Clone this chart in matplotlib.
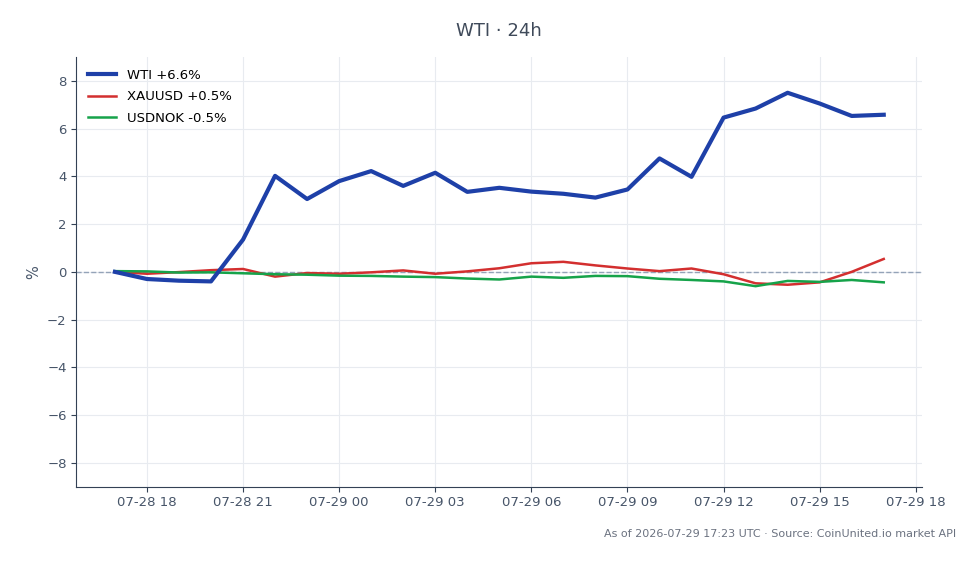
import matplotlib
matplotlib.use("Agg")
import matplotlib.pyplot as plt
import matplotlib.dates as mdates
import pandas as pd

# hourly % change, 07-28 17:00 -> 07-29 17:00 UTC
times = pd.date_range("2026-07-28 17:00", "2026-07-29 17:00", freq="h")

wti = [0.0, -0.30, -0.37, -0.40, 1.35, 4.02, 3.05, 3.80, 4.22, 3.60, 4.15, 3.35, 3.52,
       3.36, 3.27, 3.11, 3.45, 4.75, 3.98, 6.46, 6.84, 7.50, 7.05, 6.53, 6.58]
xauusd = [0.0, -0.08, -0.01, 0.07, 0.12, -0.20, -0.05, -0.08, -0.02, 0.06, -0.08, 0.02, 0.15,
          0.36, 0.42, 0.27, 0.14, 0.03, 0.14, -0.10, -0.48, -0.54, -0.44, 0.0, 0.54]
usdnok = [0.03, 0.02, -0.03, -0.02, -0.06, -0.10, -0.12, -0.16, -0.17, -0.20, -0.22, -0.28, -0.32,
          -0.20, -0.25, -0.17, -0.18, -0.29, -0.34, -0.40, -0.60, -0.38, -0.42, -0.34, -0.44]

labels = ["WTI +6.6%", "XAUUSD +0.5%", "USDNOK -0.5%"]

txt = "#475569"

fig, ax = plt.subplots(figsize=(9.8, 5.64), dpi=100)
fig.subplots_adjust(left=0.078, right=0.941, top=0.899, bottom=0.137)

ax.plot(times, wti, color="#1e40a8", lw=3, label=labels[0], zorder=4)
ax.plot(times, xauusd, color="#d32f2f", lw=1.8, label=labels[1], zorder=3)
ax.plot(times, usdnok, color="#16a34a", lw=1.8, label=labels[2], zorder=3)
ax.axhline(0, color="#94a3b8", lw=1, ls="--", zorder=1)

ax.set_ylim(-9, 9)
ax.set_yticks(range(-8, 9, 2))
ax.xaxis.set_major_locator(mdates.HourLocator(byhour=range(0, 24, 3)))
ax.xaxis.set_major_formatter(mdates.DateFormatter("%m-%d %H"))

ax.grid(True, color="#e8ebf0", lw=0.8)
ax.set_axisbelow(True)
for s in ["top", "right"]:
    ax.spines[s].set_visible(False)
for s in ["left", "bottom"]:
    ax.spines[s].set_color("#334155")
ax.tick_params(colors=txt, labelsize=9.5)
ax.tick_params(axis="both", color="#334155")

ax.set_ylabel("%", color=txt, fontsize=10.5)
ax.set_title("WTI · 24h", color="#3f4a5a", fontsize=13, pad=15)

ax.legend(loc="upper left", frameon=False, fontsize=9.5, handlelength=2.1,
          labelspacing=0.65)

fig.text(0.976, 0.054, "As of 2026-07-29 17:23 UTC · Source: CoinUnited.io market API",
         ha="right", va="center", fontsize=8, color="#6b7280")

fig.savefig("out.png", dpi=100)
